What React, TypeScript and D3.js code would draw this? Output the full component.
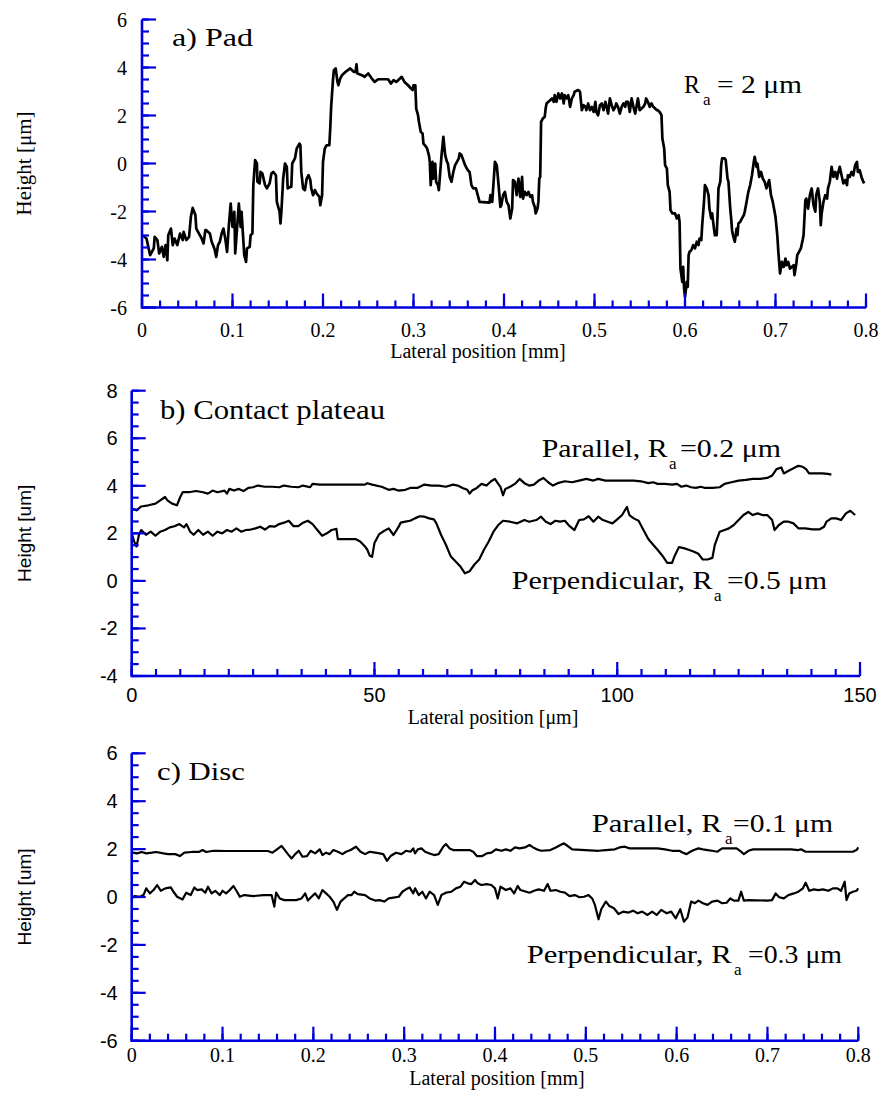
import React from 'react';
import * as d3 from 'd3';

// ---------- DATA ----------
// a) Pad profile: [lateral position mm, height µm]
const padProfile: [number, number][] = [
  [0.001,-2.99],[0.005,-3.13],[0.009,-3.82],[0.013,-3.54],[0.014,-3.06],[0.017,-3.19],[0.019,-3.75],[0.022,-3.47],[0.024,-3.89],[0.026,-3.40],
  [0.028,-4.03],[0.029,-2.99],[0.032,-2.71],[0.034,-3.40],[0.036,-3.13],[0.039,-3.40],[0.042,-2.92],[0.045,-3.19],[0.046,-2.85],[0.049,-3.19],
  [0.052,-3.06],[0.054,-2.22],[0.056,-1.85],[0.059,-2.15],[0.060,-2.71],[0.063,-2.92],[0.066,-3.13],[0.068,-3.33],[0.070,-2.78],[0.071,-2.78],
  [0.075,-2.92],[0.077,-3.26],[0.080,-3.54],[0.082,-3.89],[0.084,-3.40],[0.086,-3.26],[0.088,-2.92],[0.090,-2.71],[0.092,-3.13],[0.094,-3.68],
  [0.096,-2.57],[0.098,-1.67],[0.100,-2.64],[0.102,-2.01],[0.103,-3.75],[0.105,-2.71],[0.107,-1.67],[0.109,-2.64],[0.110,-2.01],[0.113,-3.82],
  [0.115,-4.10],[0.116,-3.54],[0.119,-3.47],[0.120,-2.99],[0.122,-2.92],[0.123,-0.90],[0.125,0.14],[0.127,0.00],[0.1275,-0.76],[0.130,-0.83],
  [0.131,-0.35],[0.133,-0.42],[0.136,-0.90],[0.138,-1.04],[0.141,-0.83],[0.143,-0.42],[0.145,-0.35],[0.148,-0.49],[0.149,-1.60],[0.152,-2.01],
  [0.153,-2.50],[0.154,-2.01],[0.156,-0.63],[0.158,0.00],[0.160,-0.14],[0.161,-1.04],[0.164,-0.97],[0.165,-0.97],[0.166,0.00],[0.169,0.21],
  [0.171,0.63],[0.174,0.83],[0.175,0.76],[0.176,-0.35],[0.178,-1.04],[0.180,-1.11],[0.182,-0.63],[0.184,-0.49],[0.186,-0.69],[0.187,-1.04],
  [0.189,-1.32],[0.191,-1.11],[0.193,-1.25],[0.196,-1.39],[0.197,-1.74],[0.199,-1.32],[0.200,0.07],[0.202,0.63],[0.204,0.76],[0.207,0.76],
  [0.208,1.46],[0.209,2.36],[0.211,3.47],[0.212,3.89],[0.214,3.96],[0.216,3.40],[0.217,3.26],[0.219,3.54],[0.221,3.68],[0.223,3.75],
  [0.226,3.85],[0.230,3.96],[0.234,3.82],[0.236,3.82],[0.237,4.13],[0.238,3.75],[0.243,3.68],[0.246,3.61],[0.250,3.75],[0.254,3.54],
  [0.257,3.40],[0.261,3.51],[0.272,3.51],[0.275,3.33],[0.278,3.47],[0.281,3.40],[0.285,3.54],[0.287,3.61],[0.290,3.40],[0.294,3.26],
  [0.297,3.13],[0.299,3.06],[0.300,3.26],[0.302,3.26],[0.303,2.29],[0.305,2.01],[0.306,1.74],[0.308,1.32],[0.310,1.25],[0.311,0.83],
  [0.314,0.69],[0.315,0.63],[0.317,0.35],[0.318,0.07],[0.319,-0.90],[0.321,0.07],[0.322,-0.63],[0.324,0.00],[0.325,-0.76],[0.327,-0.90],
  [0.328,-1.11],[0.329,-0.63],[0.331,0.35],[0.333,1.11],[0.335,0.35],[0.337,0.07],[0.338,0.00],[0.340,-0.56],[0.342,-0.76],[0.344,-0.35],
  [0.346,-0.07],[0.348,0.07],[0.350,0.21],[0.351,0.42],[0.353,0.35],[0.355,0.14],[0.357,-0.07],[0.359,-0.21],[0.360,-0.28],[0.362,-0.35],
  [0.364,-0.90],[0.366,-1.04],[0.369,-1.04],[0.372,-1.46],[0.373,-1.60],[0.384,-1.63],[0.385,-1.32],[0.387,-1.60],[0.389,-0.49],[0.390,0.07],
  [0.392,-0.07],[0.394,-0.90],[0.396,-1.81],[0.397,-1.74],[0.399,-1.32],[0.401,-1.18],[0.403,-1.60],[0.405,-1.74],[0.407,-2.29],[0.409,-1.88],
  [0.410,-0.69],[0.412,-0.76],[0.414,-1.32],[0.416,-0.63],[0.418,-1.39],[0.420,-0.56],[0.421,-1.46],[0.423,-1.18],[0.425,-1.32],[0.427,-1.18],
  [0.429,-1.39],[0.431,-1.32],[0.432,-1.60],[0.434,-1.81],[0.435,-2.08],[0.437,-1.88],[0.438,-1.60],[0.439,-0.63],[0.440,-0.56],[0.441,1.74],
  [0.443,1.88],[0.445,1.94],[0.446,2.29],[0.447,2.50],[0.451,2.64],[0.453,2.71],[0.455,2.57],[0.456,2.85],[0.458,2.57],[0.460,2.92],
  [0.462,2.71],[0.464,2.92],[0.466,2.50],[0.467,2.85],[0.469,2.71],[0.471,2.85],[0.473,2.36],[0.475,2.71],[0.477,2.85],[0.478,2.99],
  [0.482,3.06],[0.484,2.99],[0.486,2.22],[0.488,2.43],[0.490,2.36],[0.491,2.22],[0.493,2.50],[0.495,2.22],[0.497,2.36],[0.499,2.15],
  [0.501,2.57],[0.502,2.15],[0.504,2.01],[0.506,2.43],[0.508,2.50],[0.510,2.22],[0.512,2.57],[0.513,2.43],[0.515,2.08],[0.517,2.71],
  [0.519,2.43],[0.521,2.22],[0.523,2.36],[0.524,2.50],[0.526,2.36],[0.528,2.08],[0.530,2.36],[0.532,2.50],[0.534,2.36],[0.535,2.57],
  [0.537,2.57],[0.539,2.15],[0.541,2.71],[0.543,2.36],[0.545,2.08],[0.547,2.50],[0.548,2.71],[0.550,2.22],[0.552,2.29],[0.554,2.36],
  [0.556,2.50],[0.557,2.71],[0.559,2.57],[0.561,2.36],[0.563,2.50],[0.565,2.36],[0.567,2.29],[0.569,2.22],[0.570,2.22],[0.572,2.15],
  [0.574,2.01],[0.575,1.04],[0.577,0.63],[0.578,-0.07],[0.580,-0.21],[0.581,-0.90],[0.583,-1.18],[0.584,-1.94],[0.586,-2.08],[0.589,-2.08],
  [0.591,-2.29],[0.593,-2.15],[0.594,-2.43],[0.595,-4.38],[0.597,-4.93],[0.598,-4.31],[0.599,-5.21],[0.600,-5.56],[0.602,-4.93],[0.603,-5.14],
  [0.604,-3.82],[0.605,-3.68],[0.607,-3.61],[0.609,-3.40],[0.611,-3.54],[0.613,-3.26],[0.615,-3.40],[0.616,-3.13],[0.618,-3.19],[0.619,-2.57],
  [0.621,-1.60],[0.622,-0.90],[0.624,-1.04],[0.626,-1.32],[0.627,-1.88],[0.629,-2.29],[0.630,-2.08],[0.632,-2.71],[0.633,-2.99],[0.635,-2.99],
  [0.636,-2.15],[0.637,-1.04],[0.639,-0.76],[0.640,-0.07],[0.641,0.21],[0.644,0.21],[0.645,0.14],[0.647,-0.63],[0.648,-0.76],[0.650,-1.88],
  [0.651,-2.29],[0.652,-2.78],[0.653,-2.99],[0.655,-3.26],[0.657,-2.71],[0.658,-2.99],[0.659,-2.50],[0.661,-2.43],[0.663,-2.29],[0.665,-2.15],
  [0.666,-2.01],[0.668,-1.60],[0.670,-1.18],[0.672,-0.90],[0.674,-0.49],[0.676,0.07],[0.677,0.28],[0.679,-0.14],[0.680,0.00],[0.682,-0.56],
  [0.684,-0.35],[0.686,-0.63],[0.688,-0.76],[0.690,-1.04],[0.691,-0.90],[0.693,-0.69],[0.695,-1.32],[0.697,-1.60],[0.699,-2.01],[0.700,-2.22],
  [0.702,-2.99],[0.703,-3.61],[0.705,-4.58],[0.707,-4.10],[0.709,-4.31],[0.711,-3.96],[0.712,-4.24],[0.714,-4.10],[0.716,-4.38],[0.718,-4.31],
  [0.720,-4.24],[0.721,-4.65],[0.723,-4.17],[0.724,-3.82],[0.726,-3.68],[0.728,-3.54],[0.730,-3.19],[0.731,-2.99],[0.733,-1.53],[0.734,-1.46],
  [0.736,-1.88],[0.738,-1.32],[0.740,-1.04],[0.742,-1.74],[0.744,-2.01],[0.745,-1.32],[0.747,-1.04],[0.749,-1.60],[0.750,-2.57],[0.751,-2.08],
  [0.753,-1.60],[0.755,-1.32],[0.757,-1.46],[0.758,-1.04],[0.760,-0.76],[0.762,-0.14],[0.764,-0.56],[0.766,-0.35],[0.768,-0.63],[0.769,-0.42],
  [0.771,-0.14],[0.773,-0.49],[0.775,-0.83],[0.777,-0.69],[0.779,-0.90],[0.780,-0.49],[0.782,-0.56],[0.784,-0.35],[0.786,-0.49],[0.788,-0.07],
  [0.790,0.07],[0.791,-0.35],[0.793,-0.28],[0.795,-0.56],[0.797,-0.76],[0.798,-0.83],
];

// b) Contact plateau: [lateral position µm, height µm]
const plateauParallel: [number, number][] = [
  [0,3.04],[0.98,2.97],[1.96,3.13],[3.43,3.18],[4.9,3.25],[5.88,3.39],[6.86,3.53],[7.35,3.39],[8.33,3.25],[9.31,3.18],
  [10.0,3.53],[10.5,3.73],[11.76,3.73],[13.24,3.78],[14.71,3.73],[15.69,3.67],[16.67,3.80],[17.65,3.73],[19.12,3.80],[19.61,3.67],
  [20.1,3.87],[21.08,3.80],[22.06,3.87],[23.04,3.78],[24.02,3.91],[25.0,3.94],[25.98,4.01],[27.45,3.96],[28.92,3.96],[30.39,3.94],
  [31.37,4.01],[32.84,3.96],[34.31,3.94],[35.29,4.01],[36.76,3.94],[37.25,4.08],[38.73,4.05],[41.67,4.05],[44.61,4.05],[48.04,4.05],
  [48.53,4.11],[49.51,4.05],[51.47,3.96],[52.94,3.83],[53.92,3.87],[54.9,3.80],[56.37,3.83],[57.35,3.91],[58.82,3.91],[60.29,4.05],
  [61.76,4.01],[63.24,4.01],[64.71,3.96],[66.18,4.05],[67.16,4.01],[68.14,3.91],[69.12,3.83],[69.61,3.67],[70.1,3.80],[71.08,3.91],
  [72.06,4.08],[73.04,4.01],[74.02,4.19],[74.8,4.29],[75.49,4.08],[75.98,3.94],[76.47,3.60],[76.96,3.87],[77.94,3.96],[78.92,4.08],
  [79.9,4.29],[80.88,4.11],[81.86,4.01],[82.84,4.05],[83.82,4.22],[84.8,4.33],[85.78,4.15],[86.76,4.01],[87.75,4.11],[89.22,4.19],
  [90.69,4.15],[92.16,4.22],[93.63,4.29],[95.1,4.22],[96.08,4.29],[97.55,4.22],[103.4,4.22],[104.9,4.19],[106.4,4.11],[107.4,4.15],
  [108.3,4.08],[109.8,4.08],[111.3,4.05],[112.3,4.08],[113.2,3.96],[114.2,4.01],[115.2,3.94],[116.2,3.91],[117.2,3.96],[118.1,3.91],
  [119.6,3.91],[121.1,3.94],[122.1,4.08],[123.5,4.15],[125.0,4.22],[126.5,4.25],[127.9,4.29],[129.4,4.29],[130.9,4.33],[131.9,4.43],
  [132.8,4.70],[133.8,4.77],[134.3,4.52],[135.3,4.63],[136.3,4.74],[137.3,4.84],[138.2,4.80],[138.9,4.70],[139.5,4.52],[140.7,4.52],
  [142.2,4.52],[143.4,4.50],[144.1,4.47],
];
const plateauPerpendicular: [number, number][] = [
  [0,2.0],[0.5,1.66],[1.0,1.45],[1.5,1.94],[1.96,2.14],[2.94,1.94],[3.92,2.07],[4.9,1.90],[5.88,2.07],[6.86,2.14],
  [7.84,2.25],[8.82,2.30],[9.8,2.39],[10.78,2.25],[11.27,2.39],[12.06,2.07],[12.75,1.94],[13.73,2.14],[14.71,1.94],[15.69,2.07],
  [16.67,1.90],[17.65,2.07],[18.63,2.00],[19.61,2.14],[20.59,2.07],[21.57,2.21],[22.55,2.07],[23.53,2.14],[24.51,2.16],[25.49,2.21],
  [26.47,2.28],[27.45,2.16],[28.43,2.30],[29.41,2.28],[30.39,2.39],[31.37,2.45],[32.35,2.53],[33.33,2.30],[34.31,2.30],[35.29,2.45],
  [36.27,2.53],[37.25,2.39],[38.24,2.14],[39.22,1.90],[40.2,2.00],[41.18,2.14],[42.16,2.19],[42.45,1.76],[43.63,1.76],[45.1,1.76],
  [46.08,1.76],[47.06,1.66],[48.04,1.45],[48.53,1.31],[49.02,1.06],[49.51,1.01],[50.0,1.59],[50.98,1.97],[51.96,2.10],[52.94,2.21],
  [53.92,1.93],[54.9,2.25],[55.39,2.45],[56.37,2.49],[57.35,2.53],[58.33,2.63],[59.31,2.72],[60.29,2.70],[61.27,2.63],[62.25,2.59],
  [62.75,2.42],[63.73,1.93],[64.71,1.52],[65.69,1.04],[66.67,0.83],[67.65,0.62],[68.63,0.32],[69.61,0.41],[70.59,0.69],[71.57,0.90],
  [72.55,1.31],[73.53,1.66],[74.51,2.07],[75.49,2.35],[76.47,2.53],[77.94,2.49],[79.41,2.42],[80.88,2.56],[81.86,2.49],[83.33,2.56],
  [84.31,2.70],[85.29,2.49],[86.27,2.39],[87.25,2.53],[88.24,2.49],[89.22,2.53],[90.2,2.30],[91.18,2.14],[92.16,2.56],[93.14,2.59],
  [94.12,2.72],[95.1,2.49],[96.08,2.70],[97.06,2.56],[98.04,2.49],[99.02,2.42],[100.0,2.59],[101.0,2.77],[102.0,3.11],[102.5,2.77],
  [103.4,2.63],[104.4,2.53],[105.4,2.14],[106.4,1.76],[107.4,1.52],[108.3,1.31],[109.3,1.06],[110.3,0.76],[111.3,0.76],[111.8,1.04],
  [112.7,1.42],[113.7,1.38],[114.7,1.31],[115.7,1.24],[116.7,1.14],[117.2,1.01],[117.6,0.90],[118.6,0.90],[119.6,0.97],[120.1,1.52],
  [121.1,2.07],[122.1,2.14],[123.0,2.21],[124.0,2.35],[125.0,2.56],[126.0,2.77],[127.0,2.90],[127.9,2.77],[128.9,2.84],[129.9,2.77],
  [130.9,2.77],[131.9,2.56],[132.4,2.14],[133.3,2.35],[134.3,2.49],[135.3,2.49],[136.3,2.42],[137.3,2.21],[138.7,2.21],[140.2,2.17],
  [141.7,2.17],[142.6,2.28],[143.1,2.49],[144.1,2.63],[145.1,2.63],[146.1,2.56],[147.1,2.84],[148.0,2.95],[149.0,2.77],
];

// c) Disc: [lateral position mm, height µm]
const discParallel: [number, number][] = [
  [0.001,1.85],[0.006,1.82],[0.011,1.88],[0.016,1.82],[0.022,1.85],[0.027,1.88],[0.035,1.82],[0.040,1.79],[0.048,1.79],[0.053,1.71],
  [0.058,1.85],[0.066,1.88],[0.074,1.88],[0.078,1.96],[0.082,1.88],[0.090,1.93],[0.095,1.93],[0.103,1.92],[0.129,1.92],[0.150,1.92],
  [0.155,1.85],[0.160,1.99],[0.165,2.13],[0.168,1.99],[0.172,1.79],[0.176,1.61],[0.180,1.79],[0.184,1.93],[0.188,1.68],[0.193,1.71],
  [0.197,1.93],[0.202,1.82],[0.207,1.99],[0.210,1.75],[0.214,1.85],[0.218,1.79],[0.222,1.96],[0.227,1.89],[0.232,1.79],[0.236,1.89],
  [0.241,1.96],[0.247,2.10],[0.252,1.89],[0.257,1.79],[0.262,1.89],[0.268,1.85],[0.273,1.82],[0.277,1.79],[0.281,1.51],[0.285,1.71],
  [0.291,1.85],[0.297,1.79],[0.302,1.93],[0.307,1.89],[0.310,2.03],[0.312,1.82],[0.315,1.99],[0.319,2.03],[0.323,1.89],[0.328,1.82],
  [0.333,1.75],[0.338,1.79],[0.343,2.10],[0.346,2.21],[0.350,2.03],[0.354,1.96],[0.372,1.96],[0.376,1.89],[0.380,1.71],[0.386,1.71],
  [0.391,1.82],[0.396,1.85],[0.401,1.99],[0.407,1.93],[0.412,1.99],[0.417,1.93],[0.422,2.07],[0.427,2.03],[0.433,2.07],[0.438,2.17],
  [0.442,2.07],[0.446,1.99],[0.451,1.93],[0.461,1.96],[0.467,2.07],[0.472,2.17],[0.476,2.24],[0.480,2.13],[0.485,1.99],[0.514,1.93],
  [0.522,1.96],[0.532,1.99],[0.537,2.07],[0.543,2.10],[0.548,2.03],[0.579,2.03],[0.587,1.99],[0.595,1.93],[0.603,1.93],[0.607,1.85],
  [0.611,1.79],[0.615,1.89],[0.619,1.96],[0.624,2.03],[0.629,1.99],[0.634,1.96],[0.639,1.93],[0.645,1.89],[0.650,2.03],[0.666,2.03],
  [0.671,1.89],[0.674,1.79],[0.679,1.93],[0.684,1.99],[0.726,1.99],[0.734,1.96],[0.737,1.99],[0.742,1.89],[0.794,1.89],[0.798,1.96],
  [0.800,2.07],
];
const discPerpendicular: [number, number][] = [
  [0.000,-0.06],[0.003,0.04],[0.009,0.01],[0.013,0.08],[0.016,0.36],[0.020,0.15],[0.024,0.29],[0.028,0.50],[0.032,0.26],[0.037,0.36],
  [0.043,0.40],[0.046,0.22],[0.050,0.01],[0.056,-0.10],[0.060,0.18],[0.065,0.08],[0.069,0.40],[0.072,0.29],[0.077,0.32],[0.081,0.18],
  [0.084,0.43],[0.088,0.15],[0.092,0.26],[0.097,0.08],[0.100,0.26],[0.104,0.15],[0.108,0.29],[0.112,0.46],[0.116,0.22],[0.119,0.01],
  [0.124,0.08],[0.134,0.04],[0.145,0.08],[0.154,0.08],[0.157,-0.40],[0.159,0.18],[0.163,-0.06],[0.168,-0.13],[0.181,-0.13],[0.187,-0.06],
  [0.191,0.15],[0.194,-0.15],[0.198,0.01],[0.202,0.15],[0.206,-0.06],[0.210,0.29],[0.214,0.15],[0.218,0.01],[0.222,-0.19],[0.226,-0.54],
  [0.230,-0.19],[0.234,-0.06],[0.238,0.08],[0.242,0.08],[0.245,0.22],[0.249,0.12],[0.257,0.08],[0.262,-0.06],[0.268,-0.15],[0.273,-0.13],
  [0.278,-0.19],[0.283,-0.06],[0.294,0.01],[0.298,0.22],[0.302,0.32],[0.306,0.40],[0.310,0.15],[0.312,0.36],[0.316,0.08],[0.320,0.22],
  [0.324,-0.06],[0.328,0.22],[0.333,0.08],[0.337,-0.33],[0.341,0.08],[0.346,0.18],[0.352,0.22],[0.357,0.36],[0.362,0.43],[0.366,0.64],
  [0.370,0.57],[0.374,0.54],[0.378,0.71],[0.381,0.57],[0.385,0.50],[0.391,0.54],[0.396,0.50],[0.400,0.36],[0.403,-0.06],[0.406,0.43],
  [0.412,0.29],[0.417,0.36],[0.421,0.15],[0.425,0.46],[0.428,0.29],[0.438,0.18],[0.443,0.26],[0.448,0.32],[0.454,0.26],[0.458,0.54],
  [0.461,0.26],[0.467,0.29],[0.472,0.22],[0.477,0.18],[0.482,0.04],[0.488,0.08],[0.493,-0.01],[0.498,0.01],[0.503,0.08],[0.507,-0.06],
  [0.510,-0.33],[0.514,-0.93],[0.517,-0.51],[0.522,-0.19],[0.526,-0.38],[0.531,-0.47],[0.536,-0.71],[0.541,-0.61],[0.547,-0.65],[0.552,-0.57],
  [0.557,-0.68],[0.562,-0.61],[0.568,-0.75],[0.573,-0.61],[0.578,-0.75],[0.583,-0.54],[0.589,-0.68],[0.594,-0.61],[0.599,-0.89],[0.604,-0.51],
  [0.608,-1.03],[0.612,-0.85],[0.616,-0.19],[0.620,-0.26],[0.624,-0.15],[0.629,-0.26],[0.634,-0.33],[0.639,-0.19],[0.645,-0.15],[0.650,-0.26],
  [0.655,-0.24],[0.659,-0.06],[0.663,-0.15],[0.668,-0.15],[0.671,0.22],[0.674,-0.15],[0.679,-0.13],[0.700,-0.15],[0.705,-0.13],[0.709,0.15],
  [0.713,-0.01],[0.718,-0.06],[0.723,0.08],[0.729,0.15],[0.734,0.22],[0.739,0.36],[0.742,0.60],[0.746,0.26],[0.751,0.32],[0.756,0.29],
  [0.761,0.32],[0.767,0.26],[0.772,0.36],[0.777,0.36],[0.781,0.26],[0.785,0.64],[0.787,-0.13],[0.790,0.15],[0.794,0.22],[0.798,0.26],
  [0.800,0.36],
];

// Axis tick labels
const mmTicks = ['0', '0.1', '0.2', '0.3', '0.4', '0.5', '0.6', '0.7', '0.8'];
const umTicks = ['0', '50', '100', '150'];
const padYTicks = ['-6', '-4', '-2', '0', '2', '4', '6'];
const plateauYTicks = ['-4', '-2', '0', '2', '4', '6', '8'];
const discYTicks = ['-6', '-4', '-2', '0', '2', '4', '6'];

// ---------- DRAWING ----------
const W = 887;
const H = 1097;
const AXIS = '#0000dd';
const SERIF = "'Liberation Serif', 'Times New Roman', serif";
const SANS = "'Liberation Sans', Arial, sans-serif";

type PanelCfg = {
  left: number; right: number; top: number; bottom: number;
  xDomain: [number, number]; yDomain: [number, number];
  xMajor: number; xMinor: number; yMajor: number; yMinor: number;
  xTickLabels: string[]; yTickLabels: string[];
  xFont: string; yFont: string; tickSize: number;
  xLabelDy: number; yLabelDx: number;
  series: [number, number][][];
  lineWidth: number;
};

function steps(a: number, b: number, s: number) {
  const n = Math.round((b - a) / s);
  return d3.range(n + 1).map((i) => a + i * s);
}

function Panel({ c }: { c: PanelCfg }) {
  const xs = d3.scaleLinear().domain(c.xDomain).range([c.left, c.right]);
  const ys = d3.scaleLinear().domain(c.yDomain).range([c.bottom, c.top]);
  const line = d3.line<[number, number]>().x((d) => xs(d[0])).y((d) => ys(d[1]));
  const xMaj = steps(c.xDomain[0], c.xDomain[1], c.xMajor);
  const xMin = steps(c.xDomain[0], c.xDomain[1], c.xMinor);
  const yMaj = steps(c.yDomain[0], c.yDomain[1], c.yMajor);
  const yMin = steps(c.yDomain[0], c.yDomain[1], c.yMinor);
  const x0 = xs(c.xDomain[0]);
  const y0 = ys(c.yDomain[0]);
  return (
    <g>
      {c.series.map((s, i) => (
        <path key={i} d={line(s) || ''} fill="none" stroke="#000" strokeWidth={c.lineWidth} strokeLinejoin="round" />
      ))}
      {xMin.map((v, i) => (
        <line key={'xm' + i} x1={xs(v)} x2={xs(v)} y1={y0} y2={y0 - 7} stroke={AXIS} strokeWidth={2.2} />
      ))}
      {yMin.map((v, i) => (
        <line key={'ym' + i} x1={x0} x2={x0 + 7} y1={ys(v)} y2={ys(v)} stroke={AXIS} strokeWidth={2.2} />
      ))}
      {xMaj.map((v, i) => (
        <line key={'xM' + i} x1={xs(v)} x2={xs(v)} y1={y0} y2={y0 - 14} stroke={AXIS} strokeWidth={2.2} />
      ))}
      {yMaj.map((v, i) => (
        <line key={'yM' + i} x1={x0} x2={x0 + 14} y1={ys(v)} y2={ys(v)} stroke={AXIS} strokeWidth={2.2} />
      ))}
      <line x1={x0} x2={xs(c.xDomain[1])} y1={y0} y2={y0} stroke={AXIS} strokeWidth={2.6} />
      <line x1={x0} x2={x0} y1={y0 + 1.3} y2={ys(c.yDomain[1])} stroke={AXIS} strokeWidth={2.6} />
      {xMaj.map((v, i) => (
        <text key={'xl' + i} x={xs(v)} y={y0 + c.xLabelDy} textAnchor="middle" fontFamily={c.xFont} fontSize={c.tickSize}>
          {c.xTickLabels[i]}
        </text>
      ))}
      {yMaj.map((v, i) => (
        <text key={'yl' + i} x={x0 - c.yLabelDx} y={ys(v)} dy="0.35em" textAnchor="end" fontFamily={c.yFont} fontSize={c.tickSize}>
          {c.yTickLabels[i]}
        </text>
      ))}
    </g>
  );
}

function Ra({ x, y, pre, preLen, subX, post, postX, postLen }: any) {
  return (
    <g fontFamily={SERIF}>
      <text x={x} y={y} fontSize={25} textLength={preLen} lengthAdjust="spacingAndGlyphs">{pre}</text>
      <text x={subX} y={y + 12} fontSize={17}>a</text>
      <text x={postX} y={y} fontSize={25} textLength={postLen} lengthAdjust="spacingAndGlyphs">{post}</text>
    </g>
  );
}

export default function App() {
  const panelA: PanelCfg = {
    left: 142, right: 866, top: 19.5, bottom: 307.5,
    xDomain: [0, 0.8], yDomain: [-6, 6], xMajor: 0.1, xMinor: 0.02, yMajor: 2, yMinor: 0.5,
    xTickLabels: mmTicks, yTickLabels: padYTicks, xFont: SERIF, yFont: SERIF, tickSize: 20,
    xLabelDy: 29.5, yLabelDx: 15, series: [padProfile], lineWidth: 2.7,
  };
  const panelB: PanelCfg = {
    left: 131.7, right: 860, top: 390.7, bottom: 676,
    xDomain: [0, 150], yDomain: [-4, 8], xMajor: 50, xMinor: 5, yMajor: 2, yMinor: 0.5,
    xTickLabels: umTicks, yTickLabels: plateauYTicks, xFont: SANS, yFont: SANS, tickSize: 20,
    xLabelDy: 26, yLabelDx: 14, series: [plateauParallel, plateauPerpendicular], lineWidth: 2.2,
  };
  const panelC: PanelCfg = {
    left: 131.7, right: 858.3, top: 753.3, bottom: 1040.7,
    xDomain: [0, 0.8], yDomain: [-6, 6], xMajor: 0.1, xMinor: 0.02, yMajor: 2, yMinor: 0.5,
    xTickLabels: mmTicks, yTickLabels: discYTicks, xFont: SERIF, yFont: SANS, tickSize: 20,
    xLabelDy: 21.5, yLabelDx: 14, series: [discParallel, discPerpendicular], lineWidth: 2.2,
  };

  return (
    <svg width={W} height={H} viewBox={`0 0 ${W} ${H}`} style={{ position: 'absolute', left: 0, top: 0, background: '#fff' }}>
      <rect width={W} height={H} fill="#fff" />
      <Panel c={panelA} />
      <Panel c={panelB} />
      <Panel c={panelC} />

      {/* Panel a texts */}
      <text x={172} y={46} fontFamily={SERIF} fontSize={25} textLength={81} lengthAdjust="spacingAndGlyphs">a) Pad</text>
      <Ra x={684} y={93} pre="R" preLen={16} subX={703} post="= 2 μm" postX={717} postLen={85} />
      <text x={478} y={358} textAnchor="middle" fontFamily={SERIF} fontSize={20}>Lateral position [mm]</text>
      <text transform="translate(31,163.5) rotate(-90)" textAnchor="middle" fontFamily={SERIF} fontSize={21}>Height [μm]</text>

      {/* Panel b texts */}
      <text x={160} y={419} fontFamily={SERIF} fontSize={27} textLength={225} lengthAdjust="spacingAndGlyphs">b) Contact plateau</text>
      <Ra x={541.7} y={456.7} pre="Parallel, R" preLen={126} subX={669} post="=0.2 μm" postX={680} postLen={101} />
      <Ra x={511.7} y={589.3} pre="Perpendicular, R" preLen={201} subX={714} post="=0.5 μm" postX={727} postLen={100} />
      <text x={493} y={724} textAnchor="middle" fontFamily={SERIF} fontSize={20}>Lateral position [μm]</text>
      <text transform="translate(31,533.3) rotate(-90)" textAnchor="middle" fontFamily={SANS} fontSize={19}>Height [um]</text>

      {/* Panel c texts */}
      <text x={157} y={780} fontFamily={SERIF} fontSize={26} textLength={88} lengthAdjust="spacingAndGlyphs">c) Disc</text>
      <Ra x={591.7} y={831.7} pre="Parallel, R" preLen={130} subX={725} post="=0.1 μm" postX={733} postLen={100} />
      <Ra x={526.7} y={963.3} pre="Perpendicular, R" preLen={205} subX={734} post="=0.3 μm" postX={748} postLen={94} />
      <text x={497} y={1085} textAnchor="middle" fontFamily={SERIF} fontSize={20}>Lateral position [mm]</text>
      <text transform="translate(31,897) rotate(-90)" textAnchor="middle" fontFamily={SANS} fontSize={19}>Height [um]</text>
    </svg>
  );
}
